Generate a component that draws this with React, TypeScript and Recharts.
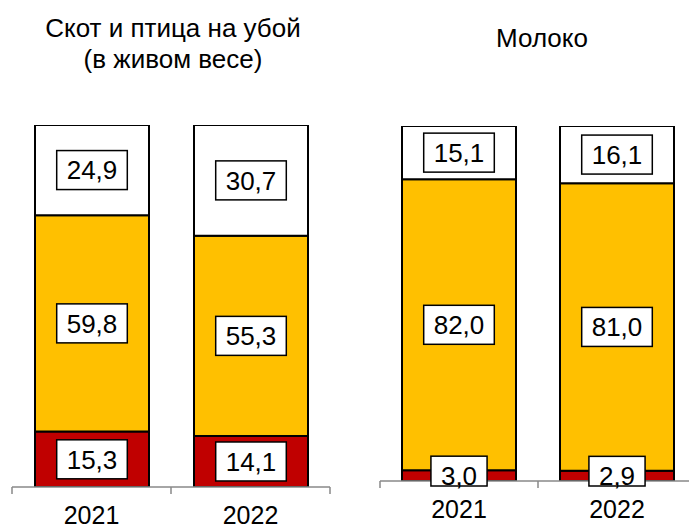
import React from 'react';
import { BarChart, Bar, XAxis, YAxis, LabelList } from 'recharts';

const years = ['2021', '2022'];

// Скот и птица на убой (в живом весе), %
const meatRed = [15.3, 14.1];
const meatYellow = [59.8, 55.3];
const meatWhite = [24.9, 30.7];

// Молоко, %
const milkRed = [3.0, 2.9];
const milkYellow = [82.0, 81.0];
const milkWhite = [15.1, 16.1];

const FONT = '"Liberation Sans", Arial, sans-serif';
const RED = '#C00000';
const YELLOW = '#FFC000';
const AXIS = '#898989';

const fmt = (v: number) => v.toFixed(1).replace('.', ',');

const makeRows = (red: number[], yellow: number[], white: number[]) =>
  years.map((year, i) => ({ year, red: red[i], yellow: yellow[i], white: white[i] }));

// белая рамка с числом по центру сегмента
const boxLabel = (clipBottom: boolean) => (props: any) => {
  const { x, y, width, height, value } = props;
  const text = fmt(Number(value));
  const fs = 26;
  const textW = text.split('').reduce((s, c) => s + (c === ',' ? 0.278 : 0.556) * fs, 0);
  const bw = textW + 20;
  const bh = 39;
  const cx = x + width / 2;
  const cy = y + height / 2;
  let top = cy - bh / 2;
  let bottom = cy + bh / 2;
  // как в Excel: подпись обрезается краем области построения
  if (clipBottom) bottom = Math.min(bottom, y + height + 5);
  return (
    <g>
      <rect x={cx - bw / 2} y={top} width={bw} height={bottom - top} fill="#fff" stroke="#000" strokeWidth={1.5} />
      <text x={cx} y={cy + fs * 0.36} textAnchor="middle" fontSize={fs} fontFamily={FONT} fill="#000">
        {text}
      </text>
    </g>
  );
};

const YearTick = (props: any) => {
  const { x, y, payload, index, visibleTicksCount } = props;
  const half = payload.offset || 0;
  return (
    <g>
      <line x1={x - half} x2={x - half} y1={y} y2={y + 7} stroke={AXIS} strokeWidth={1.5} />
      {index === (visibleTicksCount ?? years.length) - 1 && (
        <line x1={x + half} x2={x + half} y1={y} y2={y + 7} stroke={AXIS} strokeWidth={1.5} />
      )}
      <text x={x} y={y + 37} textAnchor="middle" fontSize={25} fontFamily={FONT} fill="#000">
        {payload.value}
      </text>
    </g>
  );
};

function Panel({ data, width, margin, axisHeight }: any) {
  return (
    <BarChart width={width} height={528} data={data} margin={margin} barCategoryGap={0}>
      <XAxis
        dataKey="year"
        height={axisHeight}
        tickLine={false}
        tickSize={0}
        tickMargin={0}
        axisLine={{ stroke: AXIS, strokeWidth: 1.5 }}
        tick={<YearTick />}
        interval={0}
      />
      <YAxis hide domain={[0, 100]} allowDataOverflow />
      <Bar dataKey="red" stackId="s" fill={RED} stroke="#000" strokeWidth={2} barSize={114} isAnimationActive={false}>
        <LabelList dataKey="red" content={boxLabel(true)} />
      </Bar>
      <Bar dataKey="yellow" stackId="s" fill={YELLOW} stroke="#000" strokeWidth={2} barSize={114} isAnimationActive={false}>
        <LabelList dataKey="yellow" content={boxLabel(false)} />
      </Bar>
      <Bar dataKey="white" stackId="s" fill="#FFFFFF" stroke="#000" strokeWidth={2} barSize={114} isAnimationActive={false}>
        <LabelList dataKey="white" content={boxLabel(false)} />
      </Bar>
    </BarChart>
  );
}

export default function App() {
  const meat = makeRows(meatRed, meatYellow, meatWhite);
  const milk = makeRows(milkRed, milkYellow, milkWhite);
  const title: React.CSSProperties = {
    position: 'absolute',
    fontFamily: FONT,
    fontSize: 26,
    lineHeight: '31px',
    textAlign: 'center',
    color: '#000',
  };
  return (
    <div style={{ position: 'absolute', left: 0, top: 0, width: 689, height: 528, overflow: 'hidden', background: '#fff' }}>
      <div style={{ ...title, left: 0, top: 13, width: 346 }}>
        Скот и птица на убой
        <br />
        (в живом весе)
      </div>
      <div style={{ ...title, left: 400, top: 23, width: 284 }}>Молоко</div>
      <div style={{ position: 'absolute', left: 0, top: 0 }}>
        <Panel data={meat} width={345} margin={{ top: 125, right: 15, bottom: 0, left: 12 }} axisHeight={41} />
      </div>
      <div style={{ position: 'absolute', left: 345, top: 0 }}>
        <Panel data={milk} width={360} margin={{ top: 126, right: 9, bottom: 0, left: 35 }} axisHeight={47} />
      </div>
    </div>
  );
}
